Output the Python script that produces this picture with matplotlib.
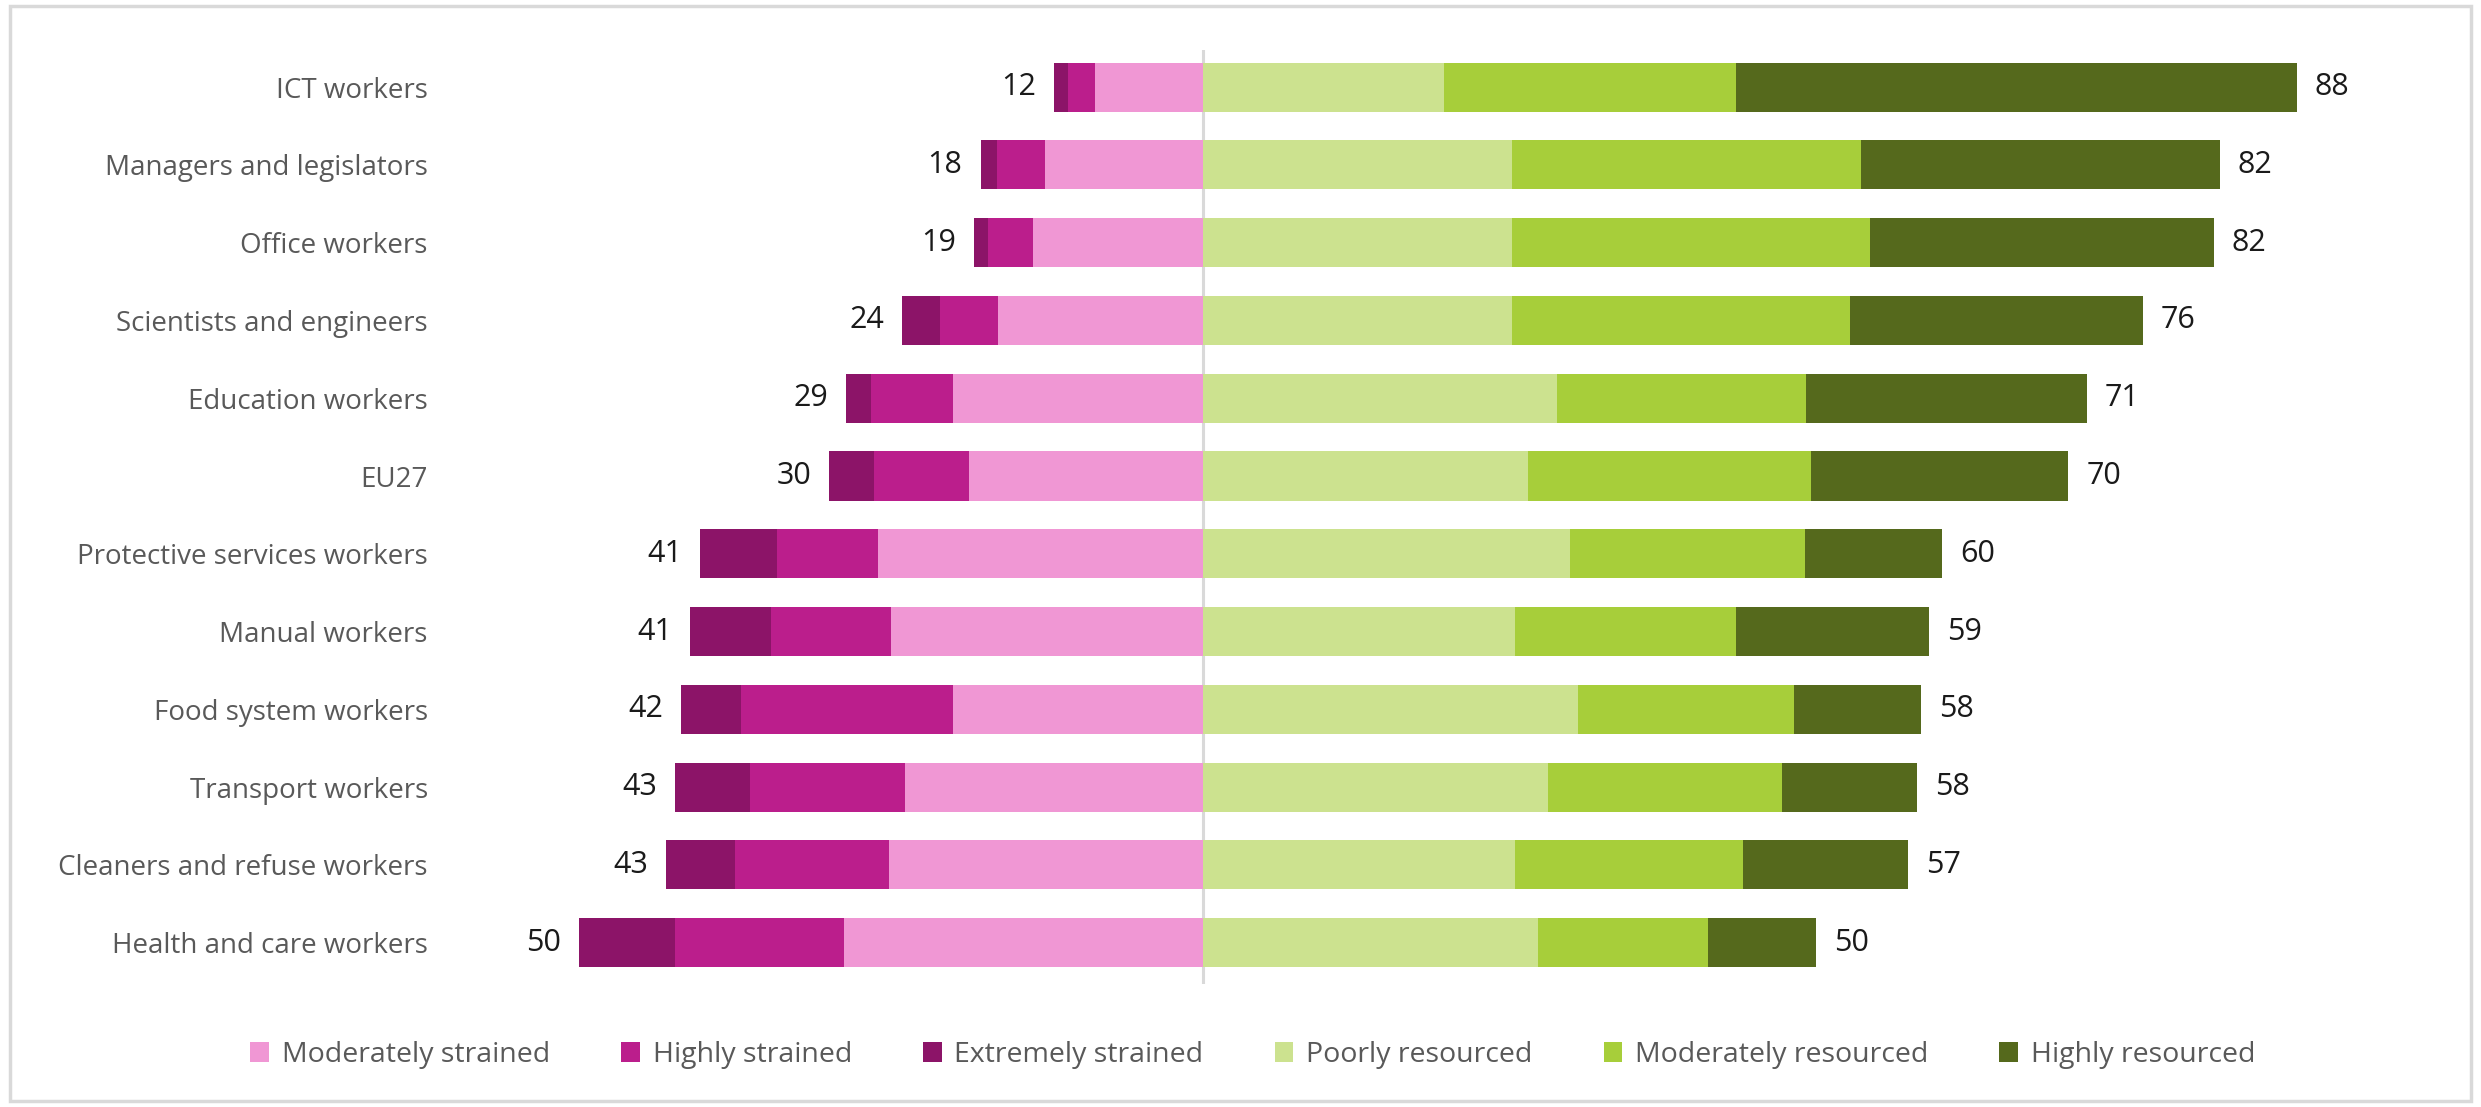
import matplotlib.pyplot as plt
from matplotlib.patches import Rectangle
import numpy as np

plt.rcParams['font.family'] = ['Open Sans', 'DejaVu Sans']

categories = ['ICT workers', 'Managers and legislators', 'Office workers',
              'Scientists and engineers', 'Education workers', 'EU27',
              'Protective services workers', 'Manual workers', 'Food system workers',
              'Transport workers', 'Cleaners and refuse workers', 'Health and care workers']

# strained side (percent)
moderately_strained = [8.7, 12.7, 13.7, 16.5, 20.1, 18.8, 26.2, 25.1, 20.1, 24.0, 25.3, 28.9]
highly_strained = [2.2, 3.9, 3.6, 4.7, 6.6, 7.7, 8.1, 9.7, 17.1, 12.5, 12.4, 13.6]
extremely_strained = [1.1, 1.3, 1.1, 3.0, 2.0, 3.6, 6.2, 6.5, 4.8, 6.0, 5.5, 7.7]
strained_total = [12, 18, 19, 24, 29, 30, 41, 41, 42, 43, 43, 50]

# resourced side
poorly_resourced = [19.4, 24.9, 24.9, 24.9, 28.5, 26.2, 29.6, 25.1, 30.2, 27.8, 25.1, 27.0]
moderately_resourced = [23.5, 28.1, 28.8, 27.2, 20.1, 22.8, 18.9, 17.8, 17.4, 18.8, 18.4, 13.7]
highly_resourced = [45.2, 28.9, 27.7, 23.6, 22.6, 20.7, 11.0, 15.6, 10.2, 10.9, 13.3, 8.7]
resourced_total = [88, 82, 82, 76, 71, 70, 60, 59, 58, 58, 57, 50]

colors = {
    'Moderately strained': '#f097d4',
    'Highly strained': '#bb1e8c',
    'Extremely strained': '#8c1468',
    'Poorly resourced': '#cce28f',
    'Moderately resourced': '#a7ce3a',
    'Highly resourced': '#55691c',
}

W, H = 2481, 1107
fig = plt.figure(figsize=(W / 100, H / 100), dpi=100)
ax = fig.add_axes([500 / W, 1 - 984 / H, 1900 / W, (984 - 50) / H])

y = np.arange(len(categories))
bh = 0.63

# left side, stacked outward from zero
left = np.zeros(len(y))
for name, vals in [('Moderately strained', moderately_strained),
                   ('Highly strained', highly_strained),
                   ('Extremely strained', extremely_strained)]:
    v = np.array(vals)
    ax.barh(y, -v, left=-left, height=bh, color=colors[name], label=name, linewidth=0)
    left += v

right = np.zeros(len(y))
for name, vals in [('Poorly resourced', poorly_resourced),
                   ('Moderately resourced', moderately_resourced),
                   ('Highly resourced', highly_resourced)]:
    v = np.array(vals)
    ax.barh(y, v, left=right, height=bh, color=colors[name], label=name, linewidth=0)
    right += v

for i in range(len(y)):
    ax.annotate(str(strained_total[i]), (-left[i], y[i]), xytext=(-13, 0),
                textcoords='offset points', ha='right', va='center',
                fontsize=22, color='#1a1a1a')
    ax.annotate(str(resourced_total[i]), (right[i], y[i]), xytext=(13, 0),
                textcoords='offset points', ha='left', va='center',
                fontsize=22, color='#1a1a1a')

ax.axvline(0, color='#d9d9d9', linewidth=2.2, zorder=0)

ax.set_xlim(-56.6, 96.4)
ax.set_ylim(11.53, -0.476)
ax.set_yticks(y)
ax.set_yticklabels(categories, fontsize=20, color='#595959')
ax.tick_params(axis='y', length=0, pad=52)
ax.set_xticks([])
for s in ax.spines.values():
    s.set_visible(False)

handles, labels = ax.get_legend_handles_labels()
fig.legend(handles, labels, loc='center', bbox_to_anchor=(0.505, 1 - 1055 / H),
           ncol=6, frameon=False, fontsize=20.5, labelcolor='#595959',
           handlelength=0.65, handleheight=0.65, handletextpad=0.45, columnspacing=2.5)

fig.add_artist(Rectangle((10 / W, 6 / H), (W - 20) / W, (H - 12) / H,
                         transform=fig.transFigure, fill=False,
                         edgecolor='#d9d9d9', linewidth=2.5))

fig.savefig('out.png', dpi=100)
